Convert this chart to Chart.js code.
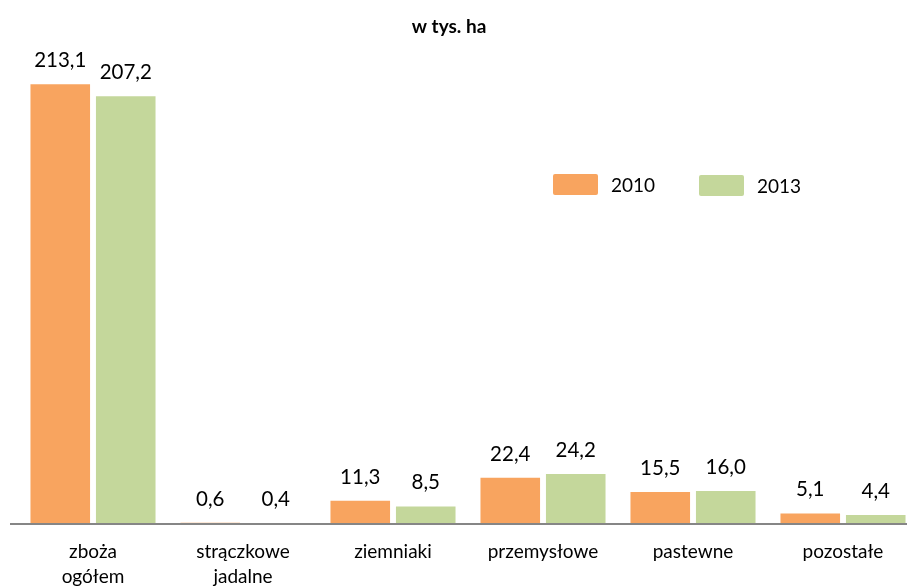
<!DOCTYPE html>
<html>
<head>
<meta charset="utf-8">
<script src="https://cdn.jsdelivr.net/npm/chart.js@4.4.1/dist/chart.umd.min.js"></script>
<style>
  html, body { margin: 0; padding: 0; background: #fff; overflow: hidden; }
  #wrap { position: relative; width: 920px; height: 588px; }
</style>
</head>
<body>
<div id="wrap"><canvas id="c"></canvas></div>
<script>
const titleText = "w tys. ha";
const categories = [["zboża", "ogółem"], ["strączkowe", "jadalne"], "ziemniaki", "przemysłowe", "pastewne", "pozostałe"];
const seriesNames = ["2010", "2013"];
const values2010 = [213.1, 0.6, 11.3, 22.4, 15.5, 5.1];
const values2013 = [207.2, 0.4, 8.5, 24.2, 16.0, 4.4];
const seriesColors = ["#F8A45F", "#C4D79B"];

const FONT = "Lato, 'Open Sans', sans-serif";

const decor = {
  id: "decor",
  afterDraw(chart) {
    const ctx = chart.ctx;
    const y = chart.scales.y.getPixelForValue(0);
    ctx.save();
    // baseline
    ctx.strokeStyle = "#868686";
    ctx.lineWidth = 2;
    ctx.beginPath();
    ctx.moveTo(10, y);
    ctx.lineTo(chart.width, y);
    ctx.stroke();
    // title
    ctx.fillStyle = "#000";
    ctx.font = "bold 19px " + FONT;
    ctx.textAlign = "center";
    ctx.textBaseline = "middle";
    ctx.fillText(titleText, 449, 27);
    // data labels
    ctx.font = "20.5px " + FONT;
    ctx.textBaseline = "alphabetic";
    chart.data.datasets.forEach((ds, i) => {
      const meta = chart.getDatasetMeta(i);
      meta.data.forEach((bar, j) => {
        const txt = ds.data[j].toFixed(1).replace(".", ",");
        ctx.fillText(txt, bar.x, bar.y - 17);
      });
    });
    // legend
    const legendPos = [[553, 174], [699, 175]];
    chart.data.datasets.forEach((ds, i) => {
      const [lx, ly] = legendPos[i];
      ctx.fillStyle = ds.backgroundColor;
      ctx.beginPath();
      ctx.roundRect(lx, ly, 45, 21, 2);
      ctx.fill();
      ctx.fillStyle = "#000";
      ctx.textAlign = "left";
      ctx.textBaseline = "middle";
      ctx.font = "19px " + FONT;
      ctx.fillText(ds.label, lx + 58, ly + 11.5);
    });
    ctx.restore();
  }
};

new Chart(document.getElementById("c"), {
  type: "bar",
  data: {
    labels: categories,
    datasets: [
      { label: seriesNames[0], data: values2010, backgroundColor: seriesColors[0] },
      { label: seriesNames[1], data: values2013, backgroundColor: seriesColors[1] }
    ]
  },
  options: {
    responsive: true,
    maintainAspectRatio: false,
    animation: false,
    layout: { padding: { left: 18, right: 2, top: 8, bottom: 0 } },
    datasets: { bar: { categoryPercentage: 0.873, barPercentage: 0.91 } },
    plugins: { legend: { display: false }, tooltip: { enabled: false } },
    scales: {
      x: {
        grid: { display: false, drawTicks: false },
        border: { display: false },
        ticks: { color: "#000", font: { family: FONT, size: 19, lineHeight: 1.3 }, padding: 16, maxRotation: 0, autoSkip: false },
        afterFit(s) { s.height = 64; }
      },
      y: {
        display: false,
        min: 0,
        max: 250
      }
    }
  },
  plugins: [decor]
});
</script>
</body>
</html>
